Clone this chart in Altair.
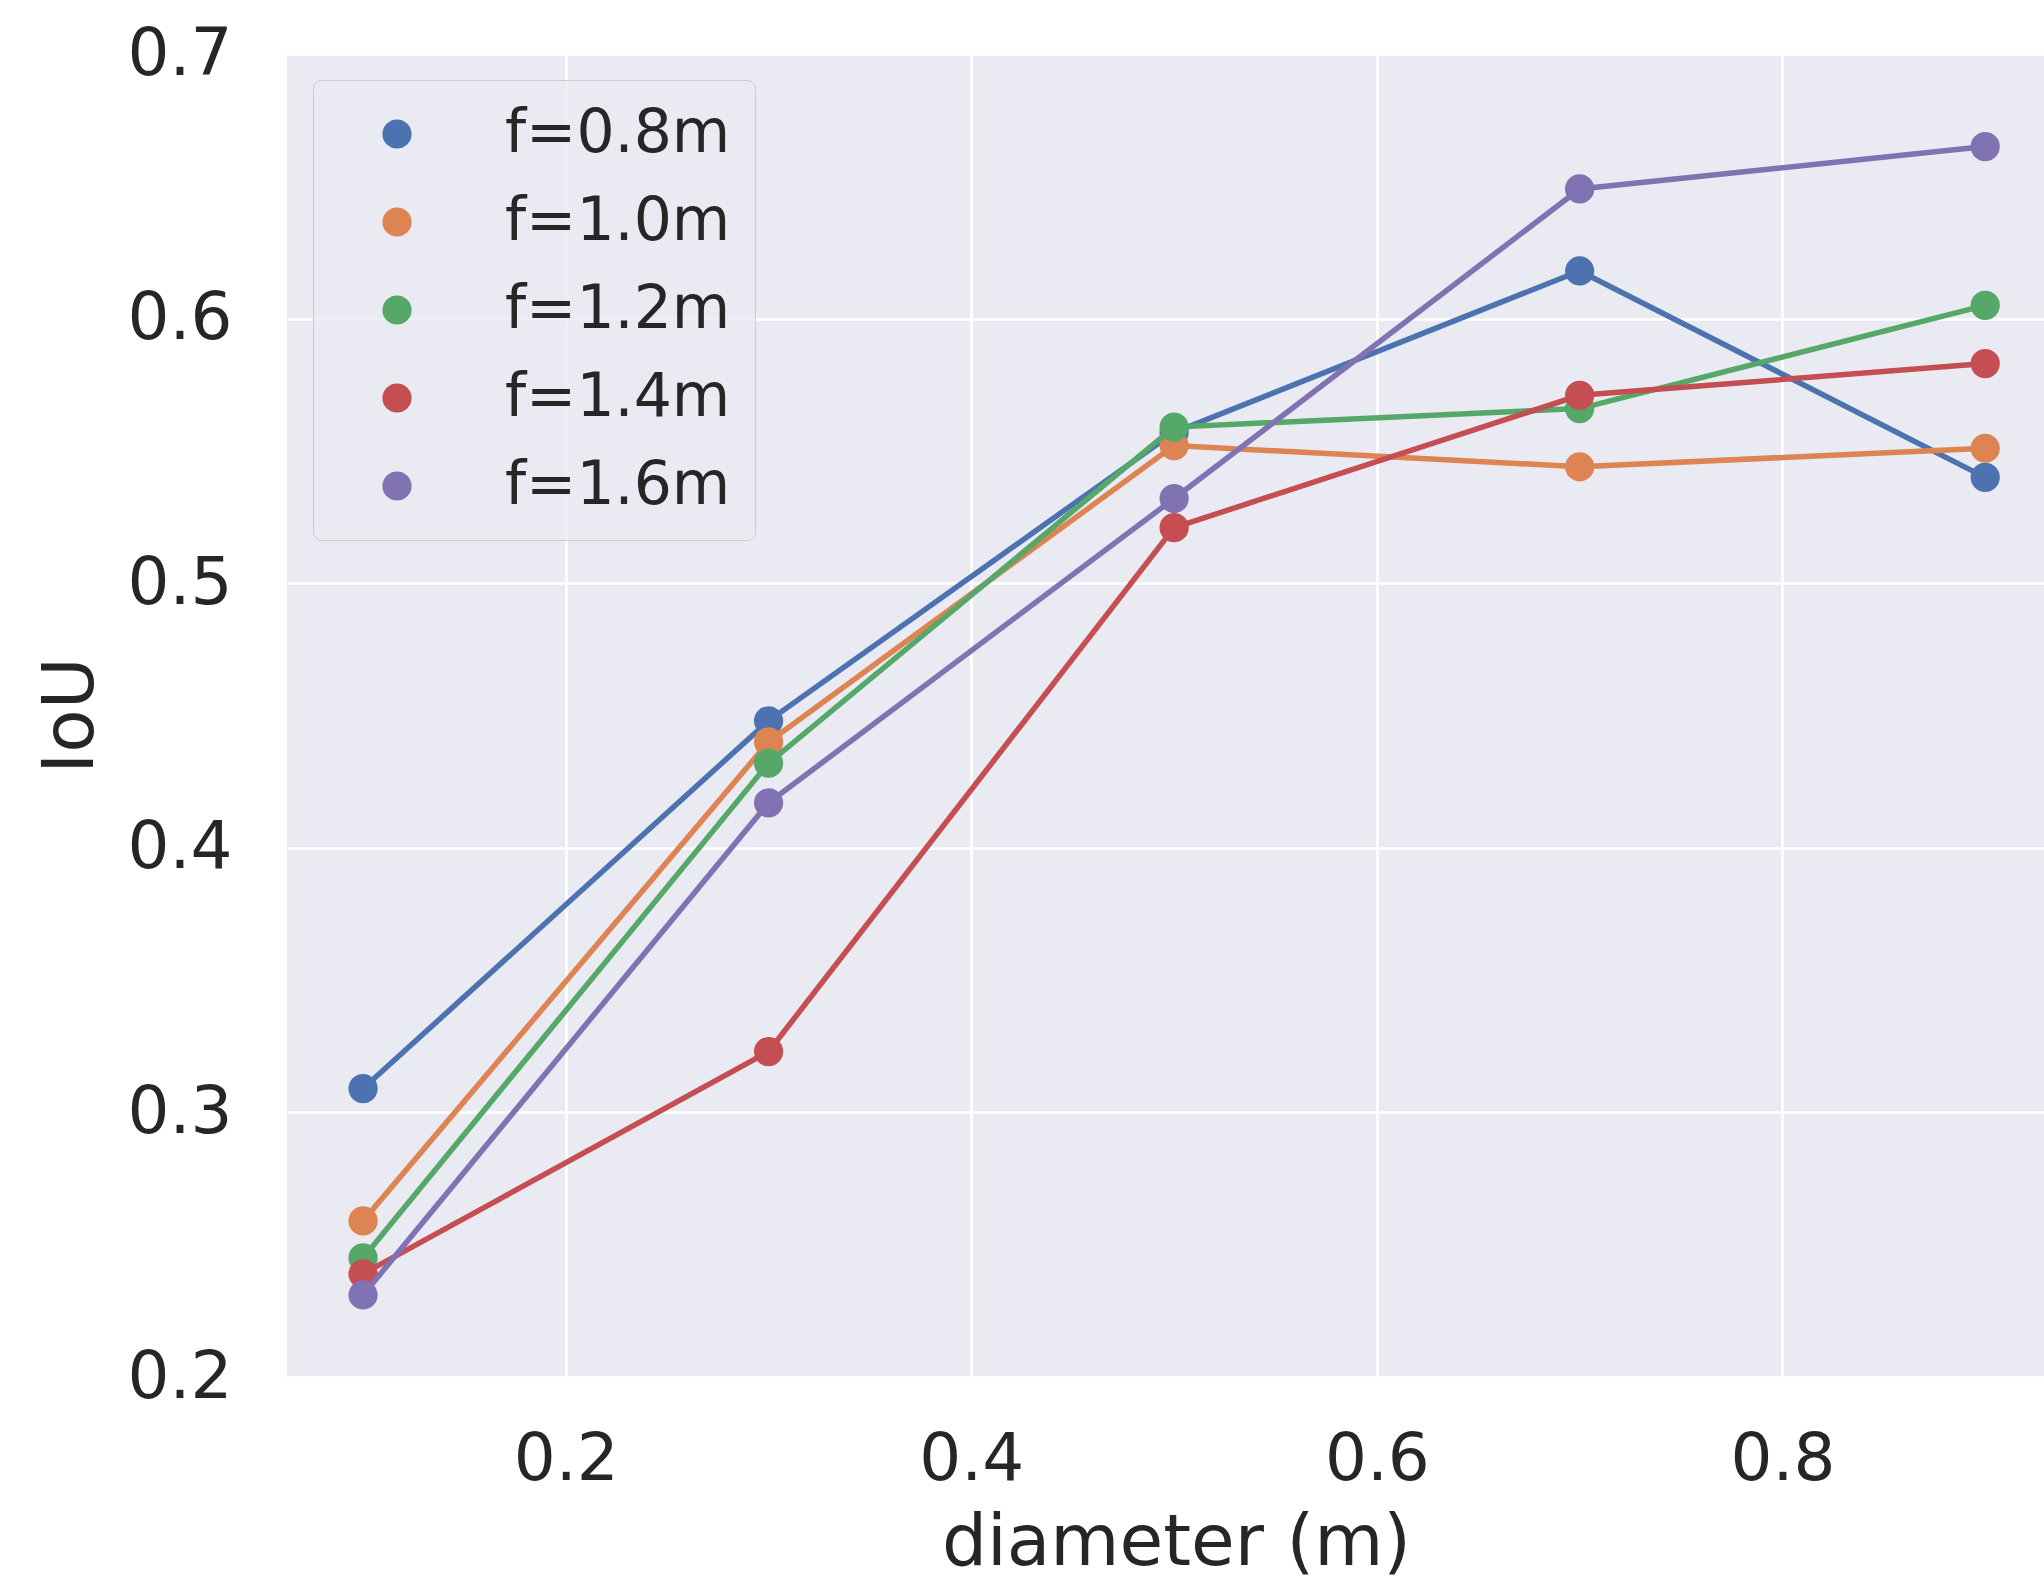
import altair as alt
import pandas as pd

diameter = [0.1, 0.3, 0.5, 0.7, 0.9]
series_names = ["f=0.8m", "f=1.0m", "f=1.2m", "f=1.4m", "f=1.6m"]
iou_f08 = [0.309, 0.448, 0.557, 0.618, 0.540]
iou_f10 = [0.259, 0.440, 0.552, 0.544, 0.551]
iou_f12 = [0.245, 0.432, 0.559, 0.566, 0.605]
iou_f14 = [0.239, 0.323, 0.521, 0.571, 0.583]
iou_f16 = [0.231, 0.417, 0.532, 0.649, 0.665]
colors = ["#4C72B0", "#DD8452", "#55A868", "#C44E52", "#8172B3"]
x_ticks = [0.2, 0.4, 0.6, 0.8]
y_ticks = [0.2, 0.3, 0.4, 0.5, 0.6, 0.7]

all_series = [iou_f08, iou_f10, iou_f12, iou_f14, iou_f16]
rows = []
for name, vals in zip(series_names, all_series):
    for d, v in zip(diameter, vals):
        rows.append({"diameter": d, "IoU": v, "series": name})
df = pd.DataFrame(rows)

FONT = "DejaVu Sans"
TXT = "#262626"

x_enc = alt.X(
    "diameter:Q",
    scale=alt.Scale(domain=[0.0625, 0.929], nice=False, zero=False),
    axis=alt.Axis(
        values=x_ticks, format=".1f", title="diameter (m)",
        labelFontSize=66, labelPadding=50, labelColor=TXT, labelFont=FONT,
        ticks=False, domain=False, grid=True, gridColor="white", gridWidth=2.7,
        titleFontSize=71, titleFontWeight="normal", titleColor=TXT, titleFont=FONT,
        titleX=889, titleY=187, titleAlign="center", titleBaseline="alphabetic",
        labelFlush=False,
    ),
)
y_enc = alt.Y(
    "IoU:Q",
    scale=alt.Scale(domain=[0.2, 0.7], nice=False, zero=False),
    axis=alt.Axis(
        values=y_ticks, format=".1f", title="IoU",
        labelFontSize=66, labelPadding=55, labelColor=TXT, labelFont=FONT,
        ticks=False, domain=False, grid=True, gridColor="white", gridWidth=2.7,
        titleFontSize=71, titleFontWeight="normal", titleColor=TXT, titleFont=FONT,
        titleX=-195, titleY=661, titleAlign="center", titleBaseline="alphabetic",
        titleAngle=270, labelFlush=False,
    ),
)
color_scale = alt.Scale(domain=series_names, range=colors)
legend = alt.Legend(
    title=None, orient="none", legendX=26, legendY=26,
    labelFontSize=60, labelFont=FONT, labelColor=TXT, labelLimit=600,
    symbolType="circle", symbolSize=855, symbolStrokeWidth=0,
    rowPadding=28, padding=24, labelOffset=78, symbolOffset=30,
    fillColor="rgba(234,234,242,0.8)", strokeColor="#cccccc",
    cornerRadius=8,
)

layers = []
for name, col in zip(series_names, colors):
    sub = alt.Chart(df).transform_filter(alt.datum.series == name)
    line = sub.mark_line(strokeWidth=5.5, color=col).encode(x=x_enc, y=y_enc)
    pts = sub.mark_point(filled=True, size=855, opacity=1, shape="circle").encode(
        x=x_enc, y=y_enc,
        color=alt.Color("series:N", scale=color_scale, legend=legend),
    )
    layers.extend([line, pts])

chart = alt.layer(*layers).properties(
    width=1757, height=1323,
    autosize=alt.AutoSizeParams(type="none"),
    padding={"left": 287, "top": 54, "right": 0, "bottom": 205},
    background="white",
).configure_view(fill="#EAEAF2", stroke=None)

chart.save("out.html", embed_options={"renderer": "svg", "actions": False})
